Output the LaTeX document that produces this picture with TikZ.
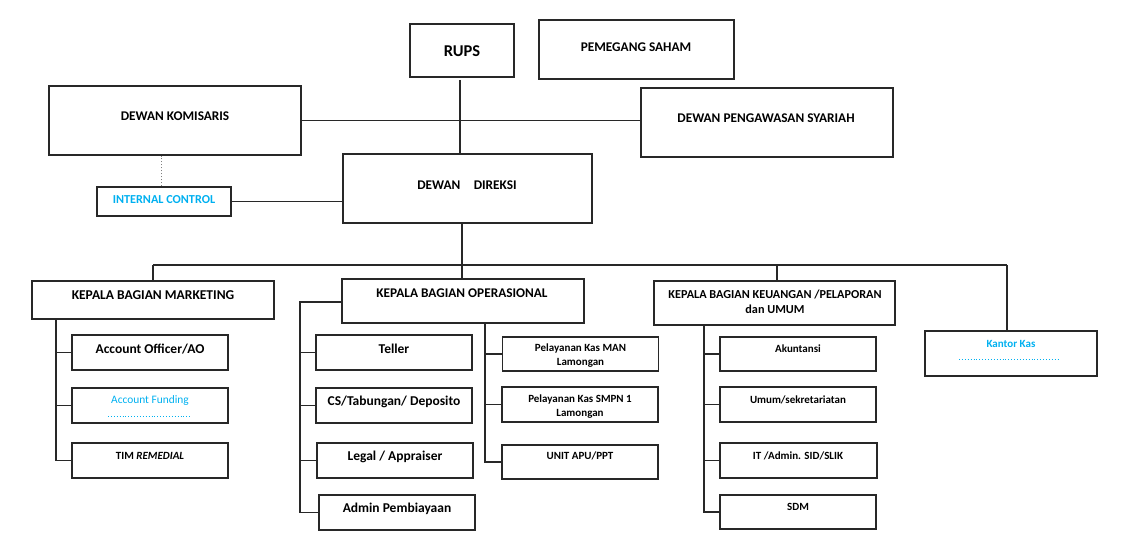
\documentclass[tikz,border=0pt]{standalone}
\usepackage{fontspec}
\setmainfont{Carlito}
\definecolor{lblue}{RGB}{0,176,240}
\definecolor{edge}{RGB}{40,40,40}
\begin{document}
\begin{tikzpicture}[x=1pt,y=-1pt,
  bx/.style={draw=edge, line width=1.1pt, inner sep=0pt},
  ln/.style={draw=edge, line width=1.1pt},
  tbig/.style={font=\bfseries\fontsize{16.5}{18}\selectfont, inner sep=0pt},
  tmid/.style={font=\bfseries\fontsize{13.3}{15}\selectfont, inner sep=0pt, align=center},
  thead/.style={font=\bfseries\fontsize{13.5}{15}\selectfont, inner sep=0pt, align=center},
  tsub/.style={font=\bfseries\fontsize{13.5}{15}\selectfont, inner sep=0pt, align=center},
  tsm/.style={font=\bfseries\fontsize{11}{14}\selectfont, inner sep=0pt, align=center},
  tkbk/.style={font=\bfseries\fontsize{12.2}{15}\selectfont, inner sep=0pt, align=center},
  tcy/.style={font=\bfseries\fontsize{11}{13}\selectfont, inner sep=0pt, text=lblue},
  cydots/.style={draw=lblue, line width=0.9pt, dotted}
]
\useasboundingbox (0,0) rectangle (1134,553);

% ---------- top level ----------
\node[bx,minimum width=104,minimum height=53] (rups) at (462,50.5) {};
\node[tbig] (rupst) at (462,51) {RUPS};
\node[bx,minimum width=195,minimum height=59] (ps) at (636.5,49.5) {};
\node[tmid] (pst) at (636,47) {PEMEGANG SAHAM};
\node[bx,minimum width=252,minimum height=69] (dk) at (175,120.5) {};
\node[tmid] (dkt) at (175,116) {DEWAN KOMISARIS};
\node[bx,minimum width=252,minimum height=69] (dps) at (767,122.5) {};
\node[tmid] (dpst) at (766,118) {DEWAN PENGAWASAN SYARIAH};
\node[bx,minimum width=249,minimum height=69] (dd) at (467.5,188.5) {};
\node[tmid] (ddt) at (467,185) {DEWAN\hspace{1em}DIREKSI};
\node[bx,minimum width=134,minimum height=29] (ic) at (164,201.5) {};
\node[tcy,font=\bfseries\fontsize{12.2}{14}\selectfont] (ict) at (164,200) {INTERNAL CONTROL};

\coordinate (rupsx) at (460,80);
\draw[ln] (rupsx) -- (rupsx |- dd.north);
\draw[ln] (dk.east) -- (dk.east -| dps.west);
\draw[draw=gray, line width=1pt, dotted] ([xshift=-3pt]ic.north) -- ([xshift=-3pt]ic.north |- dk.south);
\draw[ln] (ic.east) -- (ic.east -| dd.west);

% ---------- department heads ----------
\node[bx,minimum width=242,minimum height=38] (kbm) at (153,300) {};
\node[thead] (kbmt) at (153,295) {KEPALA BAGIAN MARKETING};
\node[bx,minimum width=242,minimum height=44] (kbo) at (463,301) {};
\node[tmid] (kbot) at (462,293) {KEPALA BAGIAN OPERASIONAL};
\node[bx,minimum width=241,minimum height=44] (kbk) at (774.5,303) {};
\node[tkbk] (kbkt) at (775,301.5) {KEPALA BAGIAN KEUANGAN /PELAPORAN\\dan UMUM};
\node[bx,minimum width=172,minimum height=45] (kk) at (1011,353.5) {};
\node[tcy] (kkt) at (1011,344) {Kantor Kas};
\coordinate (kkd1) at (959,359);
\coordinate (kkd2) at (1059,359);
\draw[cydots] (kkd1) -- (kkd2);

\coordinate (ddb) at (462,223);
\coordinate (busL) at (153,265);
\coordinate (busK) at (777,265);
\coordinate (busR) at (1007,265);
\draw[ln] (ddb) -- (ddb |- kbo.north);
\draw[ln] (busL) -- (busR);
\draw[ln] (busL) -- (busL |- kbm.north);
\draw[ln] (busK) -- (busK |- kbk.north);
\draw[ln] (busR) -- (busR |- kk.north);

% ---------- marketing ----------
\node[bx,minimum width=156,minimum height=35] (ao) at (150,352.5) {};
\node[tsub] (aot) at (150,349) {Account Officer/AO};
\node[bx,minimum width=156,minimum height=35] (af) at (150,405.5) {};
\node[font=\fontsize{11.4}{13}\selectfont, inner sep=0pt, text=lblue] (aft) at (150,401) {Account Funding};
\coordinate (afd1) at (108,416);
\coordinate (afd2) at (192,416);
\draw[cydots] (afd1) -- (afd2);
\node[bx,minimum width=156,minimum height=35] (tr) at (150,460.5) {};
\node[tsm] (trt) at (150,456) {TIM \textit{REMEDIAL}};

\coordinate (mv) at (56,319);
\draw[ln] (mv) -- (mv |- tr.west) -- (tr.west);
\draw[ln] (mv |- ao.west) -- (ao.west);
\draw[ln] (mv |- af.west) -- (af.west);

% ---------- operasional ----------
\node[bx,minimum width=156,minimum height=35] (tel) at (394,352.5) {};
\node[tsub] (telt) at (394,349) {Teller};
\node[bx,minimum width=156,minimum height=35] (cs) at (394,405.5) {};
\node[tsub] (cst) at (394,402) {CS/Tabungan/ Deposito};
\node[bx,minimum width=156,minimum height=35] (lg) at (395,460.5) {};
\node[tsub] (lgt) at (395,457) {Legal / Appraiser};
\node[bx,minimum width=156,minimum height=35] (adm) at (397,512.5) {};
\node[tsub] (admt) at (397,509) {Admin Pembiayaan};

\coordinate (ol) at (300,302);
\draw[ln] (kbo.west |- ol) -- (ol) -- (ol |- adm.west) -- (adm.west);
\draw[ln] (ol |- tel.west) -- (tel.west);
\draw[ln] (ol |- cs.west) -- (cs.west);
\draw[ln] (ol |- lg.west) -- (lg.west);

\node[bx,minimum width=156,minimum height=34] (pkm) at (580.5,354) {};
\node[tsm] (pkmt) at (580.5,356) {Pelayanan Kas MAN\\Lamongan};
\node[bx,minimum width=156,minimum height=35] (pks) at (580,404.5) {};
\node[tsm] (pkst) at (580,407) {Pelayanan Kas SMPN 1\\Lamongan};
\node[bx,minimum width=156,minimum height=34] (apu) at (580,462) {};
\node[tsm] (aput) at (580,456) {UNIT APU/PPT};

\coordinate (or) at (485,323);
\draw[ln] (or) -- (or |- apu.west) -- (apu.west);
\draw[ln] (or |- pkm.west) -- (pkm.west);
\draw[ln] (or |- pks.west) -- (pks.west);

% ---------- keuangan ----------
\node[bx,minimum width=156,minimum height=34] (akn) at (798,354) {};
\node[tsm] (aknt) at (798,349) {Akuntansi};
\node[bx,minimum width=156,minimum height=35] (umm) at (798,404.5) {};
\node[tsm] (ummt) at (798,400) {Umum/sekretariatan};
\node[bx,minimum width=157,minimum height=35] (it) at (798.5,460.5) {};
\node[tsm] (itt) at (798,456) {IT /Admin. SID/SLIK};
\node[bx,minimum width=156,minimum height=34] (sdm) at (798,512) {};
\node[tsm] (sdmt) at (798,507) {SDM};

\coordinate (kv) at (704,325);
\draw[ln] (kv) -- (kv |- sdm.west) -- (sdm.west);
\draw[ln] (kv |- akn.west) -- (akn.west);
\draw[ln] (kv |- umm.west) -- (umm.west);
\draw[ln] (kv |- it.west) -- (it.west);
\end{tikzpicture}
\end{document}
